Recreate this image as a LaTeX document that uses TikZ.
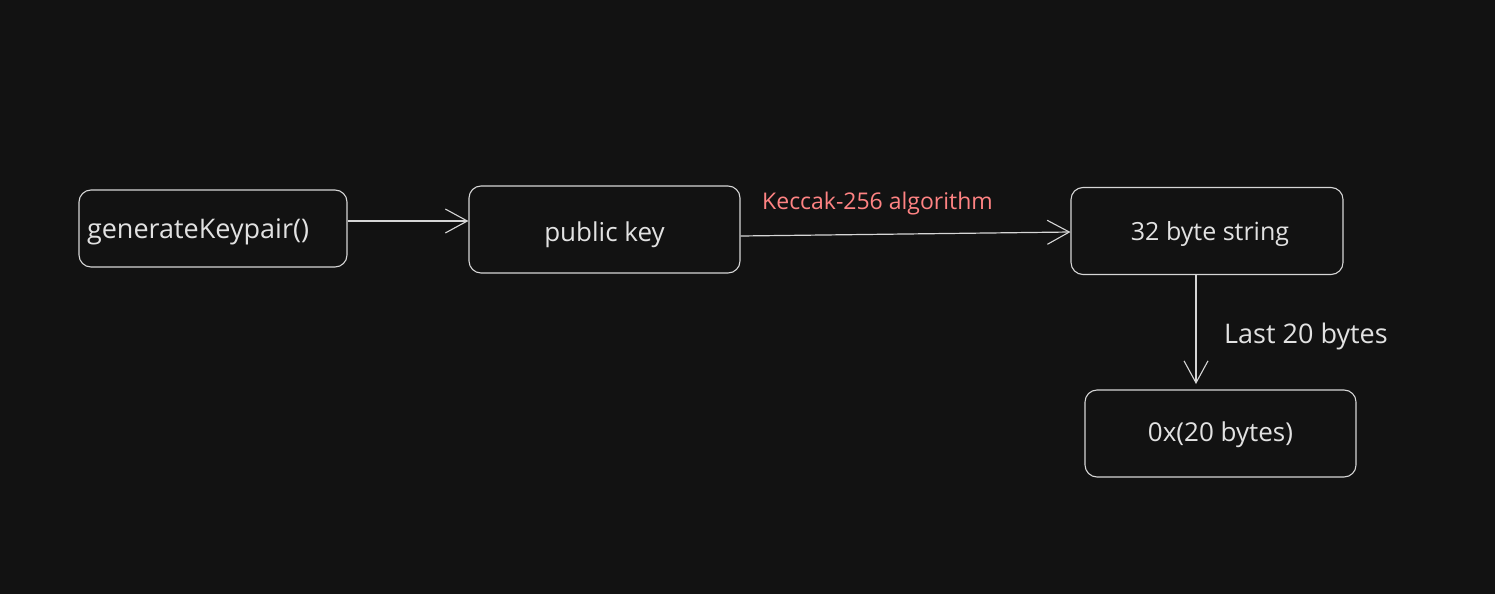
\documentclass[tikz,border=0pt]{standalone}
\usepackage{fontspec}
\setmainfont{Open Sans}
\usetikzlibrary{arrows.meta}
\definecolor{bg}{HTML}{121212}
\definecolor{ink}{HTML}{D6D6D6}
\definecolor{txt}{HTML}{E2E2E2}
\definecolor{redink}{HTML}{FF8383}
\newcommand{\lowered}[2]{\raisebox{-#1}[\height][\depth]{#2}}
\tikzset{
  box/.style={draw=ink, line width=1.1pt, rounded corners=12pt, minimum width=#1, minimum height=86pt, inner sep=0pt, text=txt, font=\fontsize{25}{28}\selectfont},
  box/.default=271pt,
  conn/.style={draw=ink, line width=1.2pt, -{Straight Barb[length=22pt,width=24pt,line width=1.1pt]}},
  lbl/.style={font=\fontsize{23}{26}\selectfont, inner sep=0pt},
}
\begin{document}
\begin{tikzpicture}[x=1pt,y=-1pt]
\fill[bg] (0,0) rectangle (1495,594);
\useasboundingbox (0,0) rectangle (1495,594);
\node[box=268pt, minimum height=77pt, text width=252pt, align=left, inner xsep=8pt, font=\fontsize{27}{30}\selectfont] (gen) at (213,228.5) {\lowered{3pt}{generateKeypair()}};
\node[box, minimum height=87pt, font=\fontsize{26}{30}\selectfont] (pub) at (604.5,229.5) {\lowered{5pt}{public key}};
\node[box=272pt, minimum height=87pt] (hash) at (1207,231) {\lowered{3pt}{\hspace{6pt}32 byte string}};
\node[box, minimum height=87pt, font=\fontsize{26}{30}\selectfont] (addr) at (1220.5,433.5) {\lowered{1pt}{0x(20 bytes)}};
\draw[conn] (gen.east |- 0,221) -- (pub.west |- 0,221);
\draw[conn] (pub.east |- 0,236) -- (hash.west |- 0,232) node[pos=0.4, above=19pt, xshift=5pt, lbl, text=redink] {Keccak-256 algorithm};
\draw[conn] (1196,275) coordinate (s3) -- (1196,384) coordinate (e3);
\node[lbl, text=txt, anchor=west, font=\fontsize{27}{30}\selectfont] at (1224,336) {Last 20 bytes};
\end{tikzpicture}
\end{document}
